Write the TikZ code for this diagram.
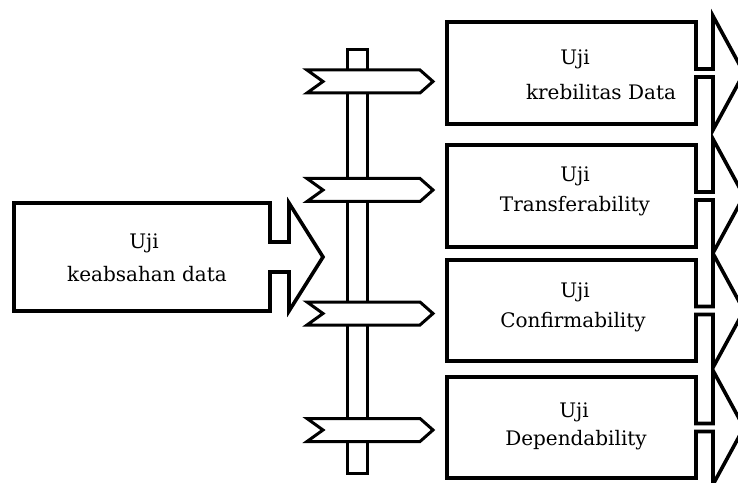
\documentclass[tikz,border=0pt]{standalone}
\usepackage{fontspec}
\setmainfont{DejaVu Serif}
\begin{document}
\begin{tikzpicture}[x=1bp,y=-1bp,
  boxline/.style={draw=black,line width=3.6bp,fill=white,line join=miter},
  signline/.style={draw=black,line width=3bp,fill=white,line join=miter},
  lbl/.style={anchor=base,inner sep=0pt,font=\fontsize{20bp}{24bp}\selectfont}]
\useasboundingbox (0,0) rectangle (738,483);
\clip (0,0) rectangle (738,483);
% left callout
\draw[boxline] (14,203) -- (270,203) -- (270,242) -- (289,242) -- (289,203)
  -- (323,257) -- (289,311) -- (289,272) -- (270,272) -- (270,311) -- (14,311) -- cycle;
% right callouts: top, bottom
\foreach \T/\B in {22/124, 145/247, 260/361, 377/478}{
  \pgfmathsetmacro{\C}{(\T+\B)/2}
  \draw[boxline] (447,\T) -- (696,\T) -- (696,\C-4) -- (713,\C-4) -- (713,\C-57)
    -- (744,\C) -- (713,\C+57) -- (713,\C+4) -- (696,\C+4) -- (696,\B) -- (447,\B) -- cycle;
}
% signpost
\draw[signline] (347,50) rectangle (367,473);
\foreach \c in {81.5,190,313.5,430}{
  \draw[signline] (307,\c-11.5) -- (420,\c-11.5) -- (433,\c) -- (420,\c+11.5)
    -- (307,\c+11.5) -- (323,\c) -- cycle;
}
% texts
\node[lbl] (l1) at (144,249) {Uji};
\node[lbl] (l2) at (147,282) {keabsahan data};
\node[lbl] (a1) at (575,65) {Uji};
\node[lbl] (a2) at (601,100) {krebilitas Data};
\node[lbl] (b1) at (575,182) {Uji};
\node[lbl] (b2) at (575,212) {Transferability};
\node[lbl] (c1) at (575,297) {Uji};
\node[lbl] (c2) at (573,327) {Confirmability};
\node[lbl] (d1) at (574,417) {Uji};
\node[lbl] (d2) at (576,445) {Dependability};
\end{tikzpicture}
\end{document}
